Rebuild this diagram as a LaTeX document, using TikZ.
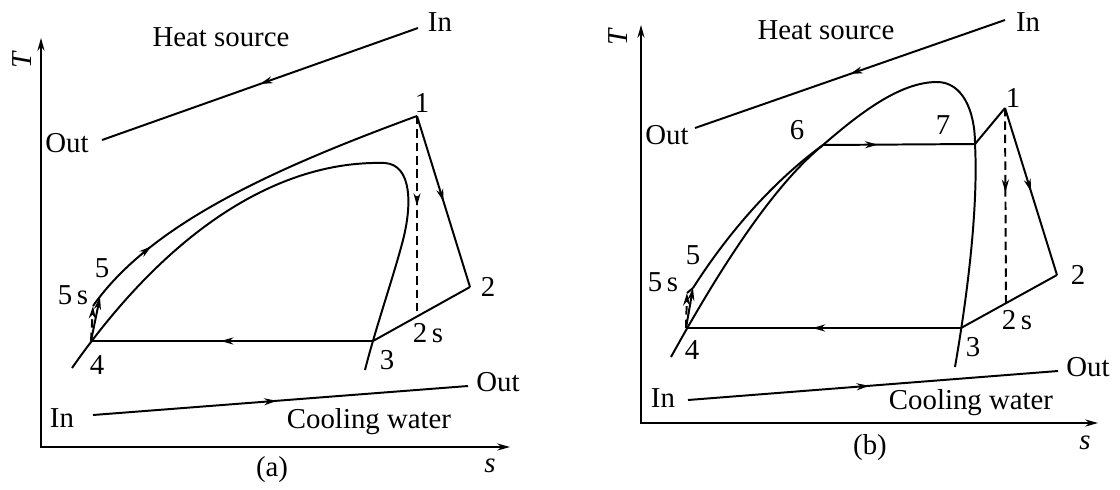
\documentclass[tikz,border=0pt]{standalone}
\usepackage{fontspec}
\setmainfont{Liberation Serif}
\usetikzlibrary{arrows.meta,decorations.markings}
\begin{document}
\begin{tikzpicture}[>={Stealth[length=9pt,width=5pt]}, x=0.025cm, y=-0.025cm, line width=1.4pt,
  lbl/.style={inner sep=0pt, font=\fontsize{20.5}{24}\selectfont},
  dashline/.style={dash pattern=on 6pt off 3.5pt},
  midarrow/.style={postaction={decorate}, decoration={markings, mark=at position #1 with {\arrow{>}}}}]
\useasboundingbox (0,0) rectangle (1120,489);

% (a)
\coordinate (aT) at (41,38);
\coordinate (as) at (510,447);
\draw[<->] (aT) |- (as);
\node[lbl, rotate=90] (aTl) at (22,60) {\textit{T}};
\node[lbl] (asl) at (490,466) {\textit{s}};
\node[lbl] (acap) at (272,470) {(a)};

\coordinate (ahin) at (418,28);
\coordinate (ahout) at (102,140);
\draw[midarrow=0.5] (ahin) -- (ahout);
\node[lbl] (ahinl) at (440,22) {In};
\node[lbl] (ahoutl) at (67,143) {Out};
\node[lbl] (ahs) at (221,37) {Heat source};

\coordinate (acin) at (93,415);
\coordinate (acout) at (468,386);
\draw[midarrow=0.49] (acin) -- (acout);
\node[lbl] (acinl) at (62,418) {In};
\node[lbl] (acoutl) at (498,382) {Out};
\node[lbl] (acw) at (369,422) {Cooling water};

\coordinate (a1) at (417,116);
\coordinate (a2) at (470,287);
\coordinate (a2s) at (417,316);
\coordinate (a3) at (373,341);
\coordinate (a4) at (91,341);
\coordinate (a5s) at (93,306);
\coordinate (a5) at (100,297);

\draw (72,368) .. controls (170,228) and (280,160) .. (385,163)
  .. controls (412,165) and (412,205) .. (403,240)
  .. controls (394,275) and (375,330) .. (365,370);
\draw[midarrow=0.22] (a5s) .. controls (150,225) and (270,170) .. (a1);
\draw[midarrow=0.5] (a1) -- (a2);
\draw (a2) -- (a3);
\draw[midarrow=0.54] (a3) -- (a4);
\draw[dashline, midarrow=0.45] (a1) -- (a2s);
\draw[->] (a4) -- (a5);
\draw[dashline, ->] (a4) -- (a5s);

\node[lbl] (a1l) at (422,103) {1};
\node[lbl] (a2l) at (488,287) {2};
\node[lbl] (a2sl) at (428,333) {2\,s};
\node[lbl] (a3l) at (387,360) {3};
\node[lbl] (a4l) at (97,365) {4};
\node[lbl] (a5l) at (102,268) {5};
\node[lbl] (a5sl) at (73,295) {5\,s};

% (b)
\coordinate (bT) at (641,25);
\coordinate (bs) at (1098,423);
\draw[<->] (bT) |- (bs);
\node[lbl, rotate=90] (bTl) at (618,37) {\textit{T}};
\node[lbl] (bsl) at (1085,443) {\textit{s}};
\node[lbl] (bcap) at (870,448) {(b)};

\coordinate (bhin) at (1005,20);
\coordinate (bhout) at (695,128);
\draw[midarrow=0.5] (bhin) -- (bhout);
\node[lbl] (bhinl) at (1028,22) {In};
\node[lbl] (bhoutl) at (667,135) {Out};
\node[lbl] (bhs) at (826,30) {Heat source};

\coordinate (bcin) at (688,400);
\coordinate (bcout) at (1058,371);
\draw[midarrow=0.49] (bcin) -- (bcout);
\node[lbl] (bcinl) at (663,398) {In};
\node[lbl] (bcoutl) at (1088,367) {Out};
\node[lbl] (bcw) at (971,403) {Cooling water};

\coordinate (b1) at (1005,108);
\coordinate (b2) at (1057,275);
\coordinate (b2s) at (1006,304);
\coordinate (b3) at (961,328);
\coordinate (b4) at (686,328);
\coordinate (b5s) at (687,293);
\coordinate (b5) at (693,288);
\coordinate (b6) at (823,145);
\coordinate (b7) at (975,144);

\draw (671,357) .. controls (730,250) and (780,180) .. (b6)
  .. controls (860,113) and (900,82) .. (937,82)
  .. controls (962,82) and (975,110) .. (b7)
  .. controls (978,200) and (970,280) .. (955,367);
\draw (b5) .. controls (730,230) and (775,180) .. (b6);
\draw[midarrow=0.36] (b6) -- (b7);
\draw (b7) -- (b1);
\draw[midarrow=0.5] (b1) -- (b2);
\draw (b2) -- (b3);
\draw[midarrow=0.54] (b3) -- (b4);
\draw[dashline, midarrow=0.43] (b1) -- (b2s);
\draw[->] (b4) -- (b5);
\draw[dashline, ->] (b4) -- (b5s);
\draw (b5s) -- (b5);

\node[lbl] (b1l) at (1013,98) {1};
\node[lbl] (b2l) at (1078,275) {2};
\node[lbl] (b2sl) at (1017,320) {2\,s};
\node[lbl] (b3l) at (973,347) {3};
\node[lbl] (b4l) at (692,350) {4};
\node[lbl] (b5l) at (693,255) {5};
\node[lbl] (b5sl) at (663,282) {5\,s};
\node[lbl] (b6l) at (797,130) {6};
\node[lbl] (b7l) at (943,125) {7};
\end{tikzpicture}
\end{document}
